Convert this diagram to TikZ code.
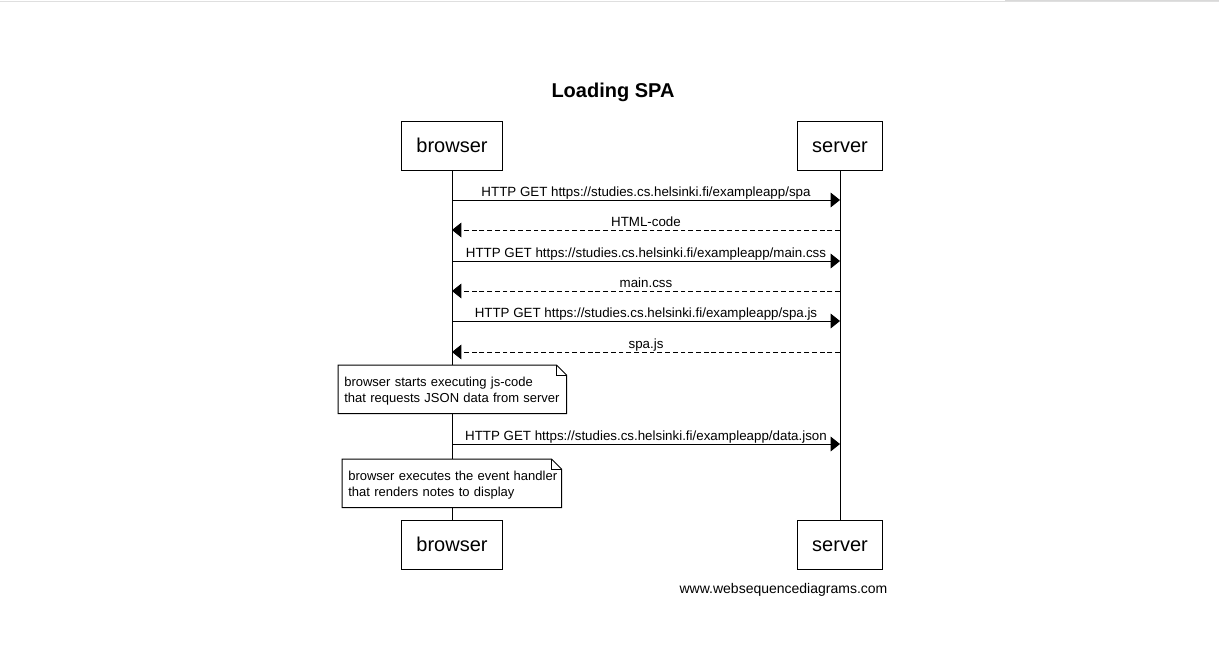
\documentclass[tikz,border=0pt]{standalone}
\usepackage{fontspec}
\setmainfont{Liberation Sans}
\usetikzlibrary{arrows.meta, positioning}
\tikzstyle{actor} = [draw, fill=white, rectangle, line width=0.75pt,
    inner xsep=11.25pt, minimum height=36.75pt, text height=12pt, text depth=2pt,
    font=\fontsize{15}{18}\selectfont]
\tikzstyle{msg} = [line width=0.75pt, -{Triangle[length=7pt,width=11pt]}]
\tikzstyle{reply} = [msg, dash pattern=on 3.6pt off 2.2pt]
\tikzstyle{lbl} = [above=2.25pt, inner sep=0pt, text depth=0pt,
    font=\fontsize{10}{12}\selectfont]
\tikzstyle{note} = [rectangle, fill=white, anchor=north west, align=left,
    inner xsep=4.5pt, minimum height=36pt, font=\fontsize{9.75}{12}\selectfont]
\newcommand{\foldnote}[1]{%
    \draw [line width=0.75pt] (#1.south west) -- (#1.north west)
        -- ([xshift=-7.5pt]#1.north east) -- ([yshift=-7.5pt]#1.north east)
        -- (#1.south east) -- cycle;
    \draw [line width=0.6pt] ([xshift=-7.5pt]#1.north east) |- ([yshift=-7.5pt]#1.north east);}
\newcommand{\url}[1]{HTTP GET https://studies.cs.helsinki.fi/exampleapp/#1}

\begin{document}
\begin{tikzpicture}[x=0.75pt, y=-0.75pt, >=latex]
    \useasboundingbox [fill=white] (0,0) rectangle (1219,664);
    \draw [gray!25, line width=0.75pt] (0,1.5) -- (1219,1.5);
    \fill [gray!30] (1005,0) rectangle (1219,1);

    \node [font=\bfseries\fontsize{15}{18}\selectfont] (title) at (613,92) {Loading SPA};

    % lifelines
    \coordinate (top1) at (452,170);
    \coordinate (top2) at (840,170);
    \coordinate (bot1) at (452,520);
    \coordinate (bot2) at (840,520);
    \draw [line width=0.75pt] (top1) -- (bot1);
    \draw [line width=0.75pt] (top2) -- (bot2);

    \node [actor] (browser) at (452,145.5) {browser};
    \node [actor] (server) at (840,145.5) {server};
    \node [actor] (browser2) at (452,544.5) {browser};
    \node [actor] (server2) at (840,544.5) {server};

    \foreach \i/\y in {1/200, 2/230, 3/261, 4/291, 5/321, 6/352, 7/444} {
        \coordinate (b\i) at (452,\y);
        \coordinate (s\i) at (840,\y);
    }

    \draw [msg] (b1) -- node [lbl] {\url{spa}} (s1);
    \draw [reply] (s2) -- node [lbl] {HTML-code} (b2);
    \draw [msg] (b3) -- node [lbl] {\url{main.css}} (s3);
    \draw [reply] (s4) -- node [lbl] {main.css} (b4);
    \draw [msg] (b5) -- node [lbl] {\url{spa.js}} (s5);
    \draw [reply] (s6) -- node [lbl] {spa.js} (b6);

    \node [note, text width=162pt] (note1) at (338,365)
        {\rule{0pt}{10.5pt}\mbox{browser starts executing js-code}\\\mbox{that requests JSON data from server}};
    \foldnote{note1}

    \draw [msg] (b7) -- node [lbl] {\url{data.json}} (s7);

    \node [note, text width=155.25pt] (note2) at (342,459)
        {\rule{0pt}{10.5pt}\mbox{browser executes the event handler}\\\mbox{that renders notes to display}};
    \foldnote{note2}

    \node [font=\fontsize{10.5}{12}\selectfont] (credit) at (783.5,590) {www.websequencediagrams.com};
\end{tikzpicture}
\end{document}
